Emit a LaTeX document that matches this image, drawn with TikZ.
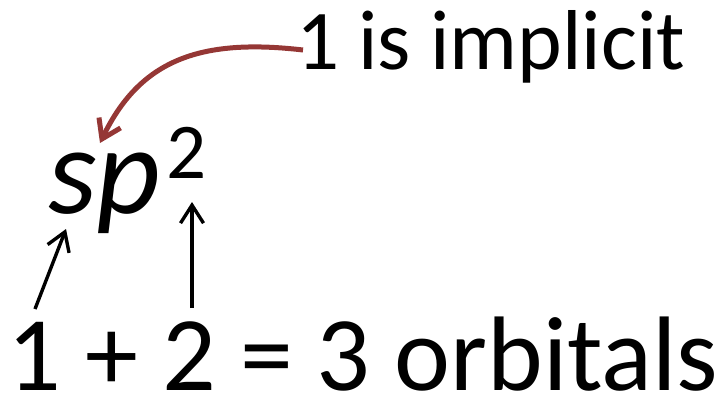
\documentclass[tikz,border=0pt]{standalone}
\usepackage{fontspec}
\setmainfont{Carlito}
\usetikzlibrary{arrows.meta}
\definecolor{darkred}{RGB}{149,55,53}
\tikzset{
  txt/.style={anchor=base west, inner sep=0pt, outer sep=0pt},
  blackarrow/.style={-{Straight Barb[length=18pt,width=23pt,line width=3.4pt]}, line width=3.4pt, black},
  redarrow/.style={-{Straight Barb[length=18pt,width=24pt,line width=5pt]}, line width=5pt, darkred}
}
\begin{document}
\begin{tikzpicture}[x=1pt,y=1pt]
\useasboundingbox (0,0) rectangle (727,-396);
\node[txt, font=\fontsize{85}{90}\selectfont] (impl) at (296,-70) {1 is implicit};
\node[txt, font=\fontsize{125}{130}\selectfont\itshape] (sp) at (48,-213) {sp};
\node[txt, font=\fontsize{79}{84}\selectfont] (two) at (166,-178) {2};
\node[txt, font=\fontsize{106}{110}\selectfont] (eq) at (8,-390) {1 + 2 = 3 orbitals};
\coordinate (redstart) at (303,-50);
\coordinate (redtip) at (100,-143);
\coordinate (a1s) at (35,-309);
\coordinate (a1t) at (66,-229);
\coordinate (a2s) at (192,-308);
\coordinate (a2t) at (192,-202);
\draw[redarrow] (redstart) .. controls (200,-38) and (140,-60) .. (redtip);
\draw[blackarrow] (a1s) -- (a1t);
\draw[blackarrow] (a2s) -- (a2t);
\end{tikzpicture}
\end{document}
